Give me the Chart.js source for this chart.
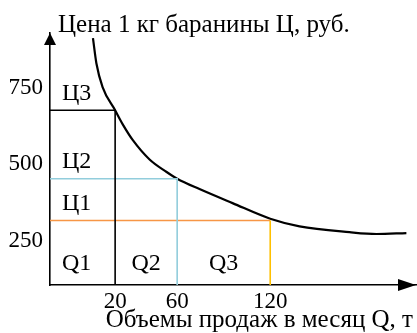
<!DOCTYPE html>
<html>
<head>
<meta charset="utf-8">
<script src="https://cdn.jsdelivr.net/npm/chart.js@4"></script>
<style>
    html, body { margin: 0; padding: 0; background: #fff; }
    #wrap { width: 417px; height: 333px; }
</style>
</head>
<body>
<div id="wrap"><canvas id="demandChart"></canvas></div>
<script>
// Tick labels shown on the axes
const quantityTicks = [20, 60, 120];
const priceTicks = [250, 500, 750];

// Demand curve (Q in tonnes, price in rubles)
const curveQ = [5.7, 7.9, 11.9, 20, 25, 31.3, 42.2, 53.2, 60, 74.4, 95.7, 120, 138.9, 171.1, 188.5, 207.8];
const curveP = [913, 831, 753, 677, 630, 580, 516, 475, 453, 419, 373, 322, 297, 278, 272, 275];

// Price levels and the matching sales volumes
const levelQ = [20, 60, 120];
const levelP = [677, 453, 316];
const priceNames = ['Ц3', 'Ц2', 'Ц1'];
const volumeNames = ['Q1', 'Q2', 'Q3'];

const yTitle = 'Цена 1 кг баранины Ц, руб.';
const xTitle = 'Объемы продаж в месяц Q, т';

const X_MIN = -22, X_MAX = 214;
const Y_MIN = 105, Y_MAX = 930;
const FONT = '"Liberation Serif", "Times New Roman", serif';

const levelColors = [
    { h: '#000000', v: '#000000' },
    { h: '#92cddc', v: '#92cddc' },
    { h: '#f79646', v: '#ffc000' }
];

const datasets = [];

// step lines: from the price axis to the curve, then down to the volume axis
levelQ.forEach(function(q, i) {
    const c = levelColors[i];
    datasets.push({
        data: [{ x: X_MIN, y: levelP[i] }, { x: q, y: levelP[i] }, { x: q, y: Y_MIN }],
        showLine: true,
        borderWidth: 1.6,
        borderColor: c.h,
        pointRadius: 0,
        segment: {
            borderColor: ctx => ctx.p0DataIndex === 0 ? c.h : c.v
        }
    });
});

datasets.push({
    data: curveQ.map((q, i) => ({ x: q, y: curveP[i] })),
    showLine: true,
    borderColor: '#000000',
    borderWidth: 2.2,
    pointRadius: 0,
    cubicInterpolationMode: 'monotone'
});

// arrows, axis titles and the Ц / Q labels
const sketchPlugin = {
    id: 'sketch',
    afterDraw(chart) {
        const ctx = chart.ctx;
        const area = chart.chartArea;
        const xs = chart.scales.x;
        const ys = chart.scales.y;
        ctx.save();
        ctx.fillStyle = '#000';

        // y arrow
        ctx.beginPath();
        ctx.moveTo(area.left, area.top);
        ctx.lineTo(area.left - 6, area.top + 12);
        ctx.lineTo(area.left + 6, area.top + 12);
        ctx.closePath();
        ctx.fill();

        // x arrow
        ctx.beginPath();
        ctx.moveTo(area.right, area.bottom);
        ctx.lineTo(area.right - 18, area.bottom - 6);
        ctx.lineTo(area.right - 18, area.bottom + 6);
        ctx.closePath();
        ctx.fill();

        ctx.font = '25px ' + FONT;
        ctx.textBaseline = 'alphabetic';
        ctx.textAlign = 'left';
        ctx.fillText(yTitle, area.left + 8, 32);
        ctx.textAlign = 'right';
        ctx.fillText(xTitle, area.right - 3, 327);

        ctx.font = '24px ' + FONT;
        ctx.textBaseline = 'middle';
        ctx.textAlign = 'left';
        priceNames.forEach(function(name, i) {
            ctx.fillText(name, area.left + 12, ys.getPixelForValue(levelP[i]) - 17);
        });

        const qy = area.bottom - 21;
        volumeNames.forEach(function(name, i) {
            if (i === 0) {
                ctx.textAlign = 'left';
                ctx.fillText(name, area.left + 12, qy);
            } else {
                ctx.textAlign = 'center';
                const mid = (xs.getPixelForValue(levelQ[i - 1]) + xs.getPixelForValue(levelQ[i])) / 2;
                ctx.fillText(name, mid, qy);
            }
        });
        ctx.restore();
    }
};

const ctx = document.getElementById('demandChart').getContext('2d');

new Chart(ctx, {
    type: 'scatter',
    data: { datasets: datasets },
    options: {
        responsive: true,
        maintainAspectRatio: false,
        animation: false,
        layout: { padding: { top: 33, right: 1, left: 0, bottom: 0 } },
        plugins: {
            legend: { display: false },
            tooltip: { enabled: false }
        },
        scales: {
            x: {
                type: 'linear',
                min: X_MIN,
                max: X_MAX,
                grid: { display: false, drawTicks: false },
                border: { display: true, color: '#000', width: 1.6 },
                afterBuildTicks: axis => { axis.ticks = quantityTicks.map(v => ({ value: v })); },
                afterFit: axis => { axis.height = 48; },
                ticks: {
                    color: '#000',
                    padding: 3,
                    maxRotation: 0,
                    autoSkip: false,
                    font: { family: FONT, size: 23 }
                }
            },
            y: {
                type: 'linear',
                min: Y_MIN,
                max: Y_MAX,
                grid: { display: false, drawTicks: false },
                border: { display: true, color: '#000', width: 1.6 },
                afterBuildTicks: axis => { axis.ticks = priceTicks.map(v => ({ value: v })); },
                afterFit: axis => { axis.width = 50; },
                ticks: {
                    color: '#000',
                    padding: 7,
                    autoSkip: false,
                    font: { family: FONT, size: 23 }
                }
            }
        }
    },
    plugins: [sketchPlugin]
});
</script>
</body>
</html>
